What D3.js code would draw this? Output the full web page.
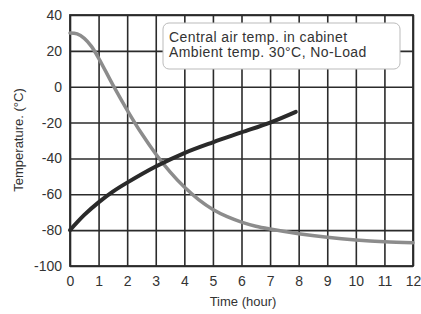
<!DOCTYPE html>
<html>
<head>
<meta charset="utf-8">
<script src="https://cdn.jsdelivr.net/npm/d3@7"></script>
<style>
  body { margin: 0; background: #fff; }
  svg { font-family: "Liberation Sans", Arial, sans-serif; }
  .grid line, .grid path { stroke: #2b2b2b; stroke-width: 1.6; }
</style>
</head>
<body>
<svg id="chart" width="421" height="314"></svg>
<script>
const xTicks = [0, 1, 2, 3, 4, 5, 6, 7, 8, 9, 10, 11, 12];
const yTicks = [40, 20, 0, -20, -40, -60, -80, -100];

// cabinet air temp, pulling down from ambient (grey curve)
const coolHours = [0, 0.25, 0.5, 0.75, 1, 1.5, 2, 2.5, 3, 3.5, 4, 4.5, 5, 5.5, 6, 6.5, 7, 8, 9, 10, 11, 12];
const coolTemps = [30, 29.5, 27, 22.5, 16, 1, -13, -26, -37.5, -47.5, -56, -63, -68.5, -72.5, -75.5, -77.8, -79.4, -82, -84, -85.5, -86.5, -87];

// second curve, rising (dark curve)
const riseHours = [0, 0.5, 1, 1.5, 2, 3, 4, 5, 6, 7, 7.9];
const riseTemps = [-80, -71.5, -64.5, -58.5, -53.5, -44.5, -37, -31, -25.5, -20, -14];

const legendLines = ["Central air temp. in cabinet", "Ambient temp. 30°C, No-Load"];

const margin = {top: 15, right: 8, bottom: 48, left: 70},
    width = 421 - margin.left - margin.right,
    height = 314 - margin.top - margin.bottom;

const svg = d3.select("#chart");
const chart = svg.append("g")
    .attr("transform", `translate(${margin.left}, ${margin.top})`);

const xScale = d3.scaleLinear().domain([0, 12]).range([0, width]);
const yScale = d3.scaleLinear().domain([-100, 40]).range([height, 0]);

// gridlines
chart.append("g")
    .attr("class", "grid")
    .attr("transform", `translate(0, ${height})`)
    .call(d3.axisBottom(xScale).tickValues(xTicks).tickFormat("").tickSize(-height).tickSizeOuter(0))
    .call(g => g.select(".domain").remove());

chart.append("g")
    .attr("class", "grid")
    .call(d3.axisLeft(yScale).tickValues(yTicks).tickFormat("").tickSize(-width).tickSizeOuter(0))
    .call(g => g.select(".domain").remove());

chart.append("rect")
    .attr("width", width)
    .attr("height", height)
    .attr("fill", "none")
    .attr("stroke", "#2b2b2b")
    .attr("stroke-width", 1.8);

// axes labels
const xAxis = chart.append("g")
    .attr("transform", `translate(0, ${height})`)
    .call(d3.axisBottom(xScale).tickValues(xTicks).tickFormat(d => String(d)).tickSize(0).tickPadding(10));
xAxis.select(".domain").remove();
xAxis.selectAll("text")
    .attr("font-size", 14)
    .attr("font-family", "Liberation Sans, Arial, sans-serif")
    .attr("fill", "#333");

const yAxis = chart.append("g")
    .call(d3.axisLeft(yScale).tickValues(yTicks).tickFormat(d => String(d)).tickSize(0).tickPadding(8));
yAxis.select(".domain").remove();
yAxis.selectAll("text")
    .attr("font-size", 14)
    .attr("font-family", "Liberation Sans, Arial, sans-serif")
    .attr("fill", "#333");

svg.append("text")
    .attr("transform", "translate(23, 140) rotate(-90)")
    .attr("text-anchor", "middle")
    .attr("font-size", 13)
    .attr("fill", "#333")
    .text("Temperature. (°C)");

svg.append("text")
    .attr("x", 243)
    .attr("y", 306)
    .attr("text-anchor", "middle")
    .attr("font-size", 13)
    .attr("fill", "#333")
    .text("Time (hour)");

// legend box
const legend = svg.append("g").attr("transform", "translate(163, 23)");
legend.append("rect")
    .attr("width", 237)
    .attr("height", 46)
    .attr("rx", 6)
    .attr("fill", "#fff")
    .attr("stroke", "#bbb")
    .attr("stroke-width", 1);
legend.selectAll("text")
    .data(legendLines)
    .enter().append("text")
    .attr("x", 6)
    .attr("y", (d, i) => 19 + i * 15)
    .attr("font-size", 14)
    .attr("letter-spacing", 0.4)
    .attr("fill", "#333")
    .text(d => d);

// curves
const line = d3.line()
    .x(d => xScale(d[0]))
    .y(d => yScale(d[1]))
    .curve(d3.curveCatmullRom.alpha(0.5));

chart.append("path")
    .datum(d3.zip(coolHours, coolTemps))
    .attr("fill", "none")
    .attr("stroke", "#8c8c8c")
    .attr("stroke-width", 3.5)
    .attr("stroke-linecap", "round")
    .attr("d", line);

chart.append("path")
    .datum(d3.zip(riseHours, riseTemps))
    .attr("fill", "none")
    .attr("stroke", "#2a2a2a")
    .attr("stroke-width", 4)
    .attr("stroke-linecap", "round")
    .attr("d", line);
</script>
</body>
</html>
